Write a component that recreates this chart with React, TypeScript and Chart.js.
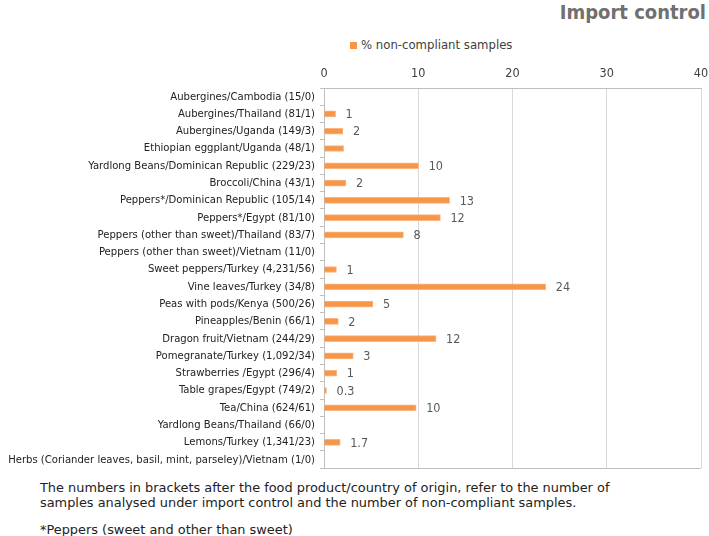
import React, { useEffect, useRef } from "react";
import { Chart, registerables } from "chart.js";

Chart.register(...registerables);

const categories = [
  "Aubergines/Cambodia (15/0)",
  "Aubergines/Thailand (81/1)",
  "Aubergines/Uganda (149/3)",
  "Ethiopian eggplant/Uganda (48/1)",
  "Yardlong Beans/Dominican Republic (229/23)",
  "Broccoli/China (43/1)",
  "Peppers*/Dominican Republic (105/14)",
  "Peppers*/Egypt (81/10)",
  "Peppers (other than sweet)/Thailand (83/7)",
  "Peppers (other than sweet)/Vietnam (11/0)",
  "Sweet peppers/Turkey (4,231/56)",
  "Vine leaves/Turkey (34/8)",
  "Peas with pods/Kenya (500/26)",
  "Pineapples/Benin (66/1)",
  "Dragon fruit/Vietnam (244/29)",
  "Pomegranate/Turkey (1,092/34)",
  "Strawberries /Egypt (296/4)",
  "Table grapes/Egypt (749/2)",
  "Tea/China (624/61)",
  "Yardlong Beans/Thailand (66/0)",
  "Lemons/Turkey (1,341/23)",
  "Herbs (Coriander leaves, basil, mint, parseley)/Vietnam (1/0)",
];

const nonCompliantPct = [
  0, 1.23, 2.01, 2.08, 10.04, 2.33, 13.33, 12.35, 8.43, 0, 1.32, 23.53, 5.2,
  1.52, 11.89, 3.11, 1.35, 0.27, 9.78, 0, 1.72, 0,
];

const valueLabels = [
  "", "1", "2", "", "10", "2", "13", "12", "8", "", "1", "24", "5", "2", "12",
  "3", "1", "0.3", "10", "", "1.7", "",
];

const xTicks = [0, 10, 20, 30, 40];

const seriesName = "% non-compliant samples";
const titleText = "Import control";
const noteLines = [
  "The numbers in brackets after the food product/country of origin, refer to the number of",
  "samples analysed under import control and the number of non-compliant samples.",
];
const footNote = "*Peppers (sweet and other than sweet)";

const FONT = "Tahoma, 'DejaVu Sans Condensed', 'DejaVu Sans', sans-serif";
const WIDE = "'DejaVu Sans', sans-serif";

export default function App() {
  const ref = useRef<HTMLCanvasElement | null>(null);

  useEffect(() => {
    const canvas = ref.current;
    if (!canvas) return;

    const valueLabelPlugin = {
      id: "valueLabels",
      afterDatasetsDraw(chart: any) {
        const ctx = chart.ctx;
        const meta = chart.getDatasetMeta(0);
        ctx.save();
        ctx.font = `12.5px ${FONT}`;
        ctx.fillStyle = "#595959";
        ctx.textAlign = "left";
        ctx.textBaseline = "middle";
        meta.data.forEach((bar: any, i: number) => {
          const t = valueLabels[i];
          if (!t) return;
          ctx.fillText(t, bar.x + 10, bar.y + 1);
        });
        ctx.restore();
      },
    };

    const borderPlugin = {
      id: "areaBorder",
      afterDraw(chart: any) {
        const { ctx, chartArea } = chart;
        ctx.save();
        ctx.strokeStyle = "#bfbfbf";
        ctx.lineWidth = 1;
        ctx.beginPath();
        ctx.moveTo(chartArea.left, Math.round(chartArea.bottom) + 0.5);
        ctx.lineTo(chartArea.right, Math.round(chartArea.bottom) + 0.5);
        ctx.stroke();
        ctx.restore();
      },
    };

    const chart = new Chart(canvas, {
      type: "bar",
      data: {
        labels: categories,
        datasets: [
          {
            label: seriesName,
            data: nonCompliantPct,
            backgroundColor: "#F79646",
            borderColor: "#F9B584",
            borderWidth: 1,
            barThickness: 6,
          },
        ],
      },
      options: {
        indexAxis: "y",
        animation: false,
        responsive: false,
        maintainAspectRatio: false,
        layout: { padding: { top: 60, right: 0, bottom: 8, left: 0 } },
        plugins: {
          legend: { display: false },
          title: { display: false },
          tooltip: { enabled: false },
        },
        scales: {
          x: {
            position: "top",
            min: 0,
            max: 40,
            afterBuildTicks(scale: any) {
              scale.ticks = xTicks.map((v) => ({ value: v }));
            },
            afterFit(scale: any) {
              scale.height = 28;
              scale.paddingRight = 8;
            },
            ticks: {
              color: "#404040",
              font: { family: FONT, size: 12.5 },
              padding: 7,
            },
            grid: {
              color: "#d9d9d9",
              drawTicks: false,
            },
            border: { display: true, color: "#bfbfbf" },
          },
          y: {
            afterFit(scale: any) {
              scale.width = 324;
            },
            ticks: {
              color: "#222222",
              font: { family: FONT, size: 11.2 },
              padding: 5,
              autoSkip: false,
            },
            grid: {
              offset: true,
              drawOnChartArea: false,
              drawTicks: true,
              tickLength: 4,
              color: "#bfbfbf",
            },
            border: { display: true, color: "#bfbfbf" },
          },
        },
      },
      plugins: [valueLabelPlugin, borderPlugin],
    });

    return () => chart.destroy();
  }, []);

  return (
    <div
      style={{
        position: "absolute",
        left: 0,
        top: 0,
        width: 709,
        height: 536,
        background: "#fff",
        fontFamily: FONT,
      }}
    >
      <div
        style={{
          position: "absolute",
          right: 3,
          top: 0,
          fontSize: 20,
          fontWeight: "bold",
          color: "#707070",
          lineHeight: "24px",
          whiteSpace: "nowrap",
        }}
      >
        {titleText}
      </div>
      <div
        style={{
          position: "absolute",
          left: 350,
          top: 36,
          display: "flex",
          alignItems: "center",
          fontSize: 13,
          color: "#404040",
          lineHeight: "18px",
          whiteSpace: "nowrap",
        }}
      >
        <span
          style={{
            display: "inline-block",
            width: 7,
            height: 7,
            background: "#F79646",
            marginRight: 4,
          }}
        />
        {seriesName}
      </div>
      <canvas
        ref={ref}
        width={709}
        height={480}
        style={{ position: "absolute", left: 0, top: 0, width: 709, height: 480 }}
      />
      <div
        style={{
          position: "absolute",
          left: 40,
          top: 480,
          fontSize: 12.9,
          fontFamily: WIDE,
          color: "#222",
          lineHeight: "15px",
          whiteSpace: "nowrap",
        }}
      >
        <div>{noteLines[0]}</div>
        <div>{noteLines[1]}</div>
        <div style={{ marginTop: 12 }}>{footNote}</div>
      </div>
    </div>
  );
}
